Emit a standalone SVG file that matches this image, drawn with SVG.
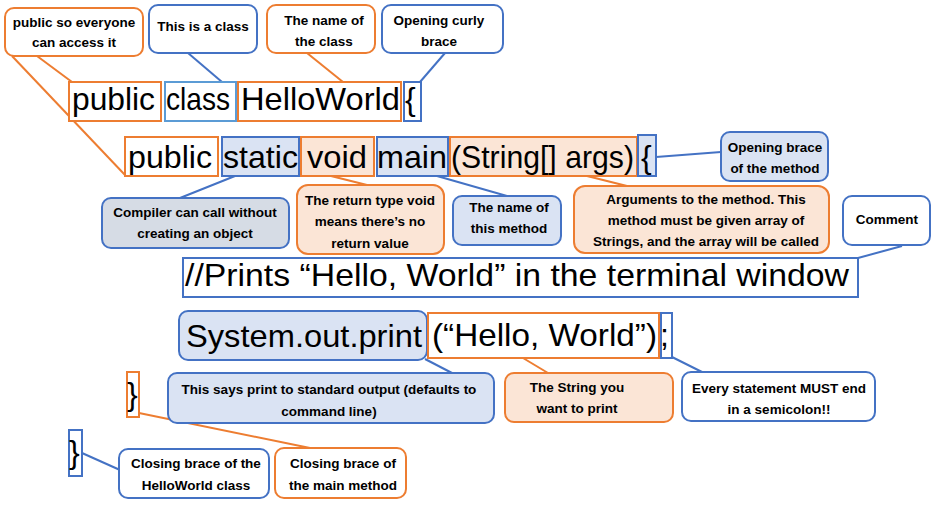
<svg xmlns="http://www.w3.org/2000/svg" width="944" height="505" viewBox="0 0 944 505">
<style>
.bg{fill:#ffffff}
.ob{fill:#ffffff;stroke:#ed7d31;stroke-width:2}
.bb{fill:#ffffff;stroke:#4472c4;stroke-width:2}
.lbb{fill:#dae3f3;stroke:#4472c4;stroke-width:2}
.gbb{fill:#d6dce5;stroke:#4472c4;stroke-width:2}
.lob{fill:#fbe5d6;stroke:#ed7d31;stroke-width:2}
.cb{fill:#ffffff;stroke:#5b9bd5;stroke-width:2}
.lo{stroke:#ed7d31;stroke-width:2;fill:none}
.lb{stroke:#4472c4;stroke-width:2;fill:none}
.code{font-family:"Liberation Sans",Arial,sans-serif;font-size:32px;fill:#000}
.t{font-family:"Liberation Sans",Arial,sans-serif;font-weight:bold;font-size:13.5px;fill:#000;text-anchor:middle}
</style>
<rect class="bg" x="0" y="0" width="944" height="505"/>
<g id="connectors">
<line class="lo" x1="12" y1="56" x2="125" y2="175"/>
<line class="lo" x1="37" y1="56" x2="72" y2="82"/>
<line class="lb" x1="188" y1="53" x2="222" y2="82"/>
<line class="lo" x1="307" y1="53" x2="343" y2="82"/>
<line class="lb" x1="445" y1="53" x2="420" y2="82"/>
<line class="lb" x1="235" y1="176" x2="180" y2="198"/>
<line class="lo" x1="327" y1="175" x2="367" y2="185"/>
<line class="lb" x1="437" y1="176" x2="507" y2="196"/>
<line class="lo" x1="583" y1="175" x2="627" y2="186"/>
<line class="lb" x1="656" y1="157" x2="721" y2="152"/>
<line class="lb" x1="902" y1="246" x2="858" y2="258"/>
<line class="lb" x1="425" y1="359" x2="452" y2="373"/>
<line class="lo" x1="523" y1="358" x2="548" y2="373"/>
<line class="lb" x1="672" y1="357" x2="702" y2="372"/>
<line class="lo" x1="139" y1="413" x2="310" y2="448"/>
<line class="lb" x1="82" y1="453" x2="120" y2="470"/>
</g>
<g id="code-public1"><rect class="ob" x="69" y="82" width="92" height="39"/><text class="code" x="72" y="110" textLength="83" lengthAdjust="spacingAndGlyphs">public</text></g>
<g id="code-class"><rect class="cb" x="165" y="82" width="71" height="39"/><text class="code" x="166" y="110" textLength="64" lengthAdjust="spacingAndGlyphs">class</text></g>
<g id="code-helloworld"><rect class="ob" x="238" y="82" width="163" height="39"/><text class="code" x="241" y="110" textLength="159" lengthAdjust="spacingAndGlyphs">HelloWorld</text></g>
<g id="code-brace1"><rect class="bb" x="404" y="82" width="17" height="39"/><text class="code" x="405" y="110">{</text></g>
<g id="code-public2"><rect class="ob" x="125" y="137" width="93" height="39"/><text class="code" x="128" y="168" textLength="84" lengthAdjust="spacingAndGlyphs">public</text></g>
<g id="code-static"><rect class="lbb" x="222" y="137" width="77" height="39"/><text class="code" x="223" y="168" textLength="75" lengthAdjust="spacingAndGlyphs">static</text></g>
<g id="code-void"><rect class="lob" x="301" y="137" width="73" height="39"/><text class="code" x="307" y="168" textLength="60" lengthAdjust="spacingAndGlyphs">void</text></g>
<g id="code-main"><rect class="lbb" x="377" y="137" width="71" height="39"/><text class="code" x="377" y="168" textLength="70" lengthAdjust="spacingAndGlyphs">main</text></g>
<g id="code-args"><rect class="lob" x="450" y="137" width="187" height="39"/><text class="code" x="451" y="168" style="font-size:30.5px" textLength="183" lengthAdjust="spacingAndGlyphs">(String[] args)</text></g>
<g id="code-brace2"><rect class="lbb" x="638" y="135" width="18" height="41"/><text class="code" x="641" y="168">{</text></g>
<g id="code-comment"><rect class="bb" x="183" y="258" width="675" height="39"/><text class="code" x="185" y="286" textLength="664" lengthAdjust="spacingAndGlyphs">//Prints “Hello, World” in the terminal window</text></g>
<g id="code-system"><rect class="lbb" x="179" y="311" width="248" height="49" rx="9"/><text class="code" x="186" y="347" textLength="236" lengthAdjust="spacingAndGlyphs">System.out.print</text></g>
<g id="code-string"><rect class="ob" x="428" y="313" width="231" height="45"/><text class="code" x="432" y="346" textLength="225" lengthAdjust="spacingAndGlyphs">(“Hello, World”)</text></g>
<g id="code-semicolon"><rect class="bb" x="661" y="313" width="11" height="45"/><text class="code" x="660" y="346">;</text></g>
<g id="code-brace3"><rect class="ob" x="127" y="372" width="12" height="45"/><text class="code" x="127" y="405">}</text></g>
<g id="code-brace4"><rect class="bb" x="69" y="430" width="13" height="46"/><text class="code" x="69" y="463">}</text></g>
<g id="note-public"><rect class="ob" x="5" y="8" width="138" height="48" rx="9"/><text class="t" x="74" y="27">public so everyone</text><text class="t" x="74" y="47">can access it</text></g>
<g id="note-class"><rect class="bb" x="149" y="5" width="108" height="48" rx="9"/><text class="t" x="203" y="31">This is a class</text></g>
<g id="note-name"><rect class="ob" x="267" y="5" width="108" height="48" rx="9"/><text class="t" x="324" y="25">The name of</text><text class="t" x="324" y="46">the class</text></g>
<g id="note-curly"><rect class="bb" x="382" y="5" width="121" height="48" rx="9"/><text class="t" x="439" y="25">Opening curly</text><text class="t" x="439" y="46">brace</text></g>
<g id="note-static"><rect class="gbb" x="102" y="198" width="187" height="50" rx="9"/><text class="t" x="195" y="217">Compiler can call without</text><text class="t" x="195" y="238">creating an object</text></g>
<g id="note-void"><rect class="lob" x="297" y="185" width="147" height="69" rx="11"/><text class="t" x="370" y="205">The return type void</text><text class="t" x="370" y="226">means there’s no</text><text class="t" x="370" y="248">return value</text></g>
<g id="note-main"><rect class="lbb" x="453" y="196" width="108" height="49" rx="9"/><text class="t" x="509" y="212">The name of</text><text class="t" x="509" y="233">this method</text></g>
<g id="note-args"><rect class="lob" x="574" y="186" width="255" height="67" rx="11"/><text class="t" x="706" y="204">Arguments to the method. This</text><text class="t" x="706" y="225">method must be given array of</text><text class="t" x="706" y="246">Strings, and the array will be called</text></g>
<g id="note-brace"><rect class="lbb" x="721" y="132" width="107" height="49" rx="9"/><text class="t" x="775" y="152">Opening brace</text><text class="t" x="775" y="173">of the method</text></g>
<g id="note-comment"><rect class="bb" x="843" y="196" width="87" height="49" rx="9"/><text class="t" x="887" y="224">Comment</text></g>
<g id="note-print"><rect class="lbb" x="168" y="373" width="326" height="50" rx="9"/><text class="t" x="329" y="394">This says print to standard output (defaults to</text><text class="t" x="329" y="416">command line)</text></g>
<g id="note-string"><rect class="lob" x="505" y="373" width="168" height="49" rx="9"/><text class="t" x="577" y="392">The String you</text><text class="t" x="577" y="413">want to print</text></g>
<g id="note-semicolon"><rect class="bb" x="682" y="372" width="193" height="49" rx="9"/><text class="t" x="779" y="393">Every statement MUST end</text><text class="t" x="779" y="414">in a semicolon!!</text></g>
<g id="note-classbrace"><rect class="bb" x="119" y="449" width="150" height="49" rx="9"/><text class="t" x="196" y="468">Closing brace of the</text><text class="t" x="196" y="490">HelloWorld class</text></g>
<g id="note-mainbrace"><rect class="ob" x="275" y="448" width="131" height="50" rx="9"/><text class="t" x="343" y="468">Closing brace of</text><text class="t" x="343" y="490">the main method</text></g>
</svg>
